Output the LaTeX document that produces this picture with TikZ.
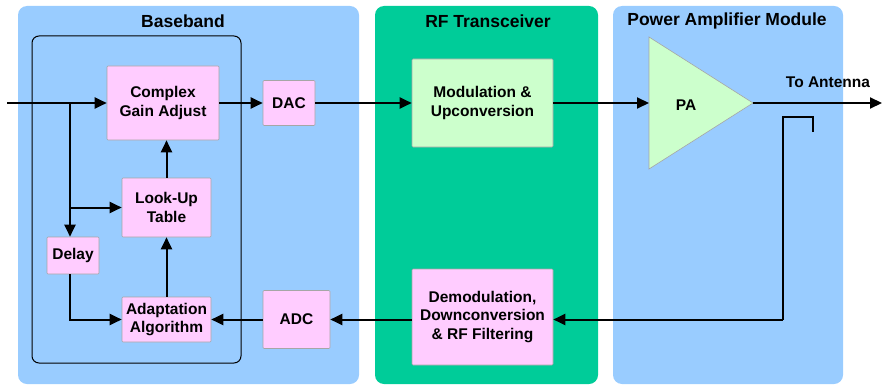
\documentclass[tikz,border=0pt]{standalone}
\usepackage{fontspec}
\setmainfont{Liberation Sans}
\usetikzlibrary{arrows.meta,positioning}
\definecolor{bbblue}{HTML}{99CCFF}
\definecolor{rfgreen}{HTML}{00CC99}
\definecolor{boxpink}{HTML}{FFCCFF}
\definecolor{boxgreen}{HTML}{CCFFCC}
\begin{document}
\begin{tikzpicture}[x=1pt,y=-1pt,>={Triangle[length=12pt,width=11pt]},line width=2pt,
  panel/.style={fill=#1,draw=none,rounded corners=9pt},
  ttl/.style={font=\fontsize{17.5}{20}\selectfont\bfseries},
  b/.style={draw=black!35,line width=0.6pt,fill=boxpink,rounded corners=1pt,align=center,
    inner sep=1pt,font=\fontsize{15.5}{18.5}\selectfont\bfseries},
  sz/.style 2 args={minimum width=#1pt,minimum height=#2pt}]
  \useasboundingbox (0,0) rectangle (882,385);
  % panels
  \fill[panel=bbblue] (18,6) rectangle (359,384);
  \fill[panel=rfgreen] (375,6) rectangle (598,384);
  \fill[panel=bbblue] (613,6) rectangle (843,384);
  \node[ttl] (tbb) at (183,21) {Baseband};
  \node[ttl] (trf) at (488,21) {RF Transceiver};
  \node[ttl] (tpa) at (727,21) {Power Amplifier Module};
  \draw[line width=1pt,rounded corners=7pt] (32,36) rectangle (241,363);
  % blocks
  \node[b,sz={112}{74}] (cga) at (163,103) {Complex\\Gain Adjust};
  \node[b,sz={52}{45}] (dac) at (289,103) {DAC};
  \node[b,sz={89}{59}] (lut) at (166.5,207.5) {Look-Up\\Table};
  \node[b,sz={52}{37}] (delay) at (73,255.5) {Delay};
  \node[b,sz={89}{45}] (adapt) at (166.5,319.5) {Adaptation\\Algorithm};
  \node[b,sz={67}{58}] (adc) at (296.5,319.5) {ADC};
  \node[b,fill=boxgreen,sz={141}{88}] (mod) at (482.5,103) {Modulation \&\\Upconversion};
  \node[b,sz={141}{96}] (demod) at (482.5,317) {Demodulation,\\Downconversion\\\& RF Filtering};
  % PA
  \coordinate (pain) at (649,103);
  \coordinate (paout) at (753,103);
  \draw[fill=boxgreen,draw=black!35,line width=0.6pt] (649,37) -- (paout) -- (649,169) -- cycle;
  \node[font=\fontsize{15.5}{18}\selectfont\bfseries] (pa) at (686,105) {PA};
  \node[font=\fontsize{15.5}{18}\selectfont\bfseries] (ant) at (828,82) {To Antenna};
  % coupler
  \coordinate (in) at (7,103);
  \coordinate (br) at (70,103);
  \coordinate (out) at (882,103);
  \coordinate (cpl) at (783,319.5);
  \draw (813,132) -- (813,117) -- (783,117) -- (cpl);
  % signal flow
  \draw[->] (in) -- (cga.west);
  \draw[->] (br) -- (br |- delay.north);
  \draw[->] (br |- lut.west) -- (lut.west);
  \draw[->] (br |- delay.south) |- (adapt.west);
  \draw[->] (adapt.north) -- (lut.south);
  \draw[->] (lut.north) -- (lut.north |- cga.south);
  \draw[->] (cga.east) -- (dac.west);
  \draw[->] (dac.east) -- (mod.west);
  \draw[->] (mod.east) -- (pain);
  \draw[->] (paout) -- (out);
  \draw[->] (cpl) -- (demod.east |- cpl);
  \draw[->] (demod.west |- adc.east) -- (adc.east);
  \draw[->] (adc.west) -- (adapt.east);
\end{tikzpicture}
\end{document}
